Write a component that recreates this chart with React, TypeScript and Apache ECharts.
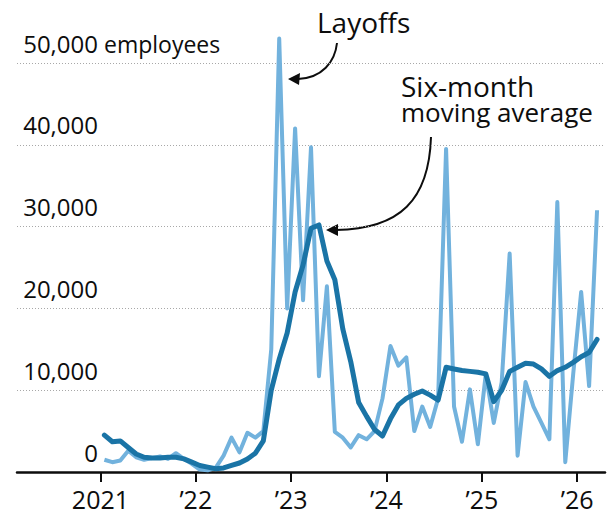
import React, { useEffect, useRef } from "react";
import * as echarts from "echarts";

// Monthly values, Jan 2021 (index 0) through Mar 2026 (index 62)
const layoffs = [
  1500, 1200, 1400, 2600, 1800, 1500, 1700, 1900, 1600, 2300, 1600, 1000,
  300, 200, 500, 2000, 4200, 2400, 4800, 4200, 5000, 15000, 53000, 20000,
  42000, 21000, 39700, 11700, 22700, 4900, 4200, 3000, 4500, 4000, 5000, 9000,
  15400, 13000, 14000, 5000, 8000, 5500, 9000, 39500, 8000, 3700, 10100, 3400,
  12000, 6000, 11000, 26700, 2000, 11000, 8000, 6000, 4000, 33000, 1200, 12000,
  22000, 10500, 32000,
];

const movingAvg = [
  4500, 3700, 3800, 3000, 2200, 1800, 1700, 1700, 1800, 1800, 1600, 1200,
  800, 600, 400, 500, 800, 1100, 1600, 2300, 3800, 10000, 13800, 17000,
  22000, 25300, 29800, 30200, 25800, 23500, 17500, 13500, 8500, 6800, 5200, 4400,
  6500, 8200, 9000, 9500, 9900, 9400, 8800, 12800, 12600, 12400, 12300, 12200,
  12000, 8600, 10000, 12300, 12800, 13300, 13200, 12600, 11700, 12400, 12800, 13400,
  14100, 14600, 16200,
];

// Year boundaries (month index) and their labels
const yearTicks = [-0.5, 11.5, 23.5, 35.5, 47.5, 59.5];
const yearLabels = ["2021", "\u201922", "\u201923", "\u201924", "\u201925", "\u201926"];

const yTicks = [0, 10000, 20000, 30000, 40000, 50000];

const FONT = "'Open Sans', 'DejaVu Sans', sans-serif";
const INK = "#0d0d0d";

export default function App() {
  const ref = useRef<HTMLDivElement>(null);

  useEffect(() => {
    document.body.style.margin = "0";
    if (!ref.current) return;
    const chart = echarts.init(ref.current, null, { renderer: "svg" });

    chart.setOption({
      animation: false,
      backgroundColor: "#ffffff",
      grid: {
        left: 17,
        right: 3,
        top: 63,
        bottom: 48,
        containLabel: false,
        outerBoundsMode: "none",
      },
      xAxis: {
        type: "value",
        min: -11,
        max: 63,
        axisLine: { show: true, lineStyle: { color: INK, width: 2.5 } },
        axisTick: {
          show: true,
          customValues: yearTicks,
          length: 10,
          lineStyle: { color: INK, width: 2 },
        },
        axisLabel: {
          show: true,
          customValues: yearTicks,
          formatter: (v: number) => {
            const k = yearTicks.findIndex((t) => Math.abs(t - v) < 1e-6);
            return k >= 0 ? yearLabels[k] : "";
          },
          fontFamily: FONT,
          fontSize: 25,
          color: INK,
          margin: 27,
          verticalAlign: "middle",
          lineHeight: 26,
        },
        splitLine: { show: false },
      },
      yAxis: {
        type: "value",
        min: yTicks[0],
        max: yTicks[yTicks.length - 1],
        interval: 10000,
        axisLine: { show: false },
        axisTick: { show: false },
        axisLabel: {
          inside: true,
          align: "right",
          margin: 81,
          verticalAlign: "bottom",
          lineHeight: 40,
          fontFamily: FONT,
          fontSize: 24,
          color: INK,
          formatter: (v: number) => v.toLocaleString("en-US"),
        },
        splitLine: {
          show: true,
          lineStyle: { color: "#a8a8a8", width: 1, type: [1, 2] },
        },
      },
      series: [
        {
          name: "Layoffs",
          type: "line",
          data: layoffs.map((v, i) => [i, v]),
          showSymbol: false,
          clip: false,
          z: 2,
          lineStyle: { color: "#72b2dd", width: 4, join: "round" },
        },
        {
          name: "Six-month moving average",
          type: "line",
          data: movingAvg.map((v, i) => [i, v]),
          showSymbol: false,
          clip: false,
          z: 3,
          lineStyle: { color: "#1a74a6", width: 5, join: "round", cap: "round" },
        },
      ],
      graphic: [
        {
          type: "text",
          x: 104,
          y: 44,
          style: {
            text: "employees",
            fontFamily: FONT,
            fontSize: 23,
            fill: INK,
            verticalAlign: "middle",
          },
        },
        {
          type: "text",
          x: 317,
          y: 22,
          style: {
            text: "Layoffs",
            fontFamily: FONT,
            fontSize: 28,
            fill: INK,
            verticalAlign: "middle",
          },
        },
        {
          type: "text",
          x: 401,
          y: 86,
          style: {
            text: "Six-month",
            fontFamily: FONT,
            fontSize: 28,
            lineHeight: 24,
            fill: INK,
            verticalAlign: "middle",
          },
        },
        {
          type: "text",
          x: 401,
          y: 112,
          style: {
            text: "moving average",
            fontFamily: FONT,
            fontSize: 26,
            lineHeight: 24,
            fill: INK,
            verticalAlign: "middle",
          },
        },
        {
          type: "bezierCurve",
          shape: { x1: 337, y1: 43, cpx1: 335, cpy1: 62, cpx2: 322, cpy2: 78, x2: 298, y2: 79 },
          style: { stroke: INK, lineWidth: 2, fill: null },
        },
        {
          type: "polygon",
          shape: { points: [[288, 79], [300, 73], [299, 85]] },
          style: { fill: INK },
        },
        {
          type: "bezierCurve",
          shape: { x1: 431, y1: 137, cpx1: 429, cpy1: 200, cpx2: 400, cpy2: 229, x2: 336, y2: 230 },
          style: { stroke: INK, lineWidth: 2, fill: null },
        },
        {
          type: "polygon",
          shape: { points: [[326, 230], [338, 224], [338, 236]] },
          style: { fill: INK },
        },
      ],
    });

    return () => chart.dispose();
  }, []);

  return <div ref={ref} style={{ width: 608, height: 520 }} />;
}
